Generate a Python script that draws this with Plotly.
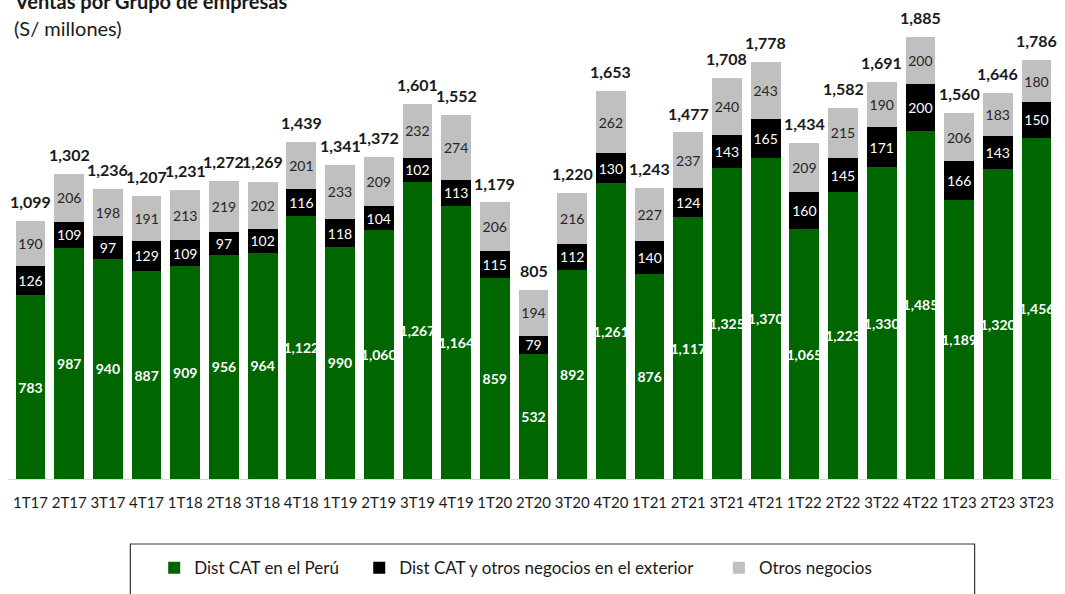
import plotly.graph_objects as go

categories = ["1T17", "2T17", "3T17", "4T17", "1T18", "2T18", "3T18", "4T18",
              "1T19", "2T19", "3T19", "4T19", "1T20", "2T20", "3T20", "4T20",
              "1T21", "2T21", "3T21", "4T21", "1T22", "2T22", "3T22", "4T22",
              "1T23", "2T23", "3T23"]
dist_peru = [783, 987, 940, 887, 909, 956, 964, 1122, 990, 1060, 1267, 1164, 859, 532,
             892, 1261, 876, 1117, 1325, 1370, 1065, 1223, 1330, 1485, 1189, 1320, 1456]
dist_ext = [126, 109, 97, 129, 109, 97, 102, 116, 118, 104, 102, 113, 115, 79,
            112, 130, 140, 124, 143, 165, 160, 145, 171, 200, 166, 143, 150]
otros = [190, 206, 198, 191, 213, 219, 202, 201, 233, 209, 232, 274, 206, 194,
         216, 262, 227, 237, 240, 243, 209, 215, 190, 200, 206, 183, 180]
totals = [1099, 1302, 1236, 1207, 1231, 1272, 1269, 1439, 1341, 1372, 1601, 1552, 1179, 805,
          1220, 1653, 1243, 1477, 1708, 1778, 1434, 1582, 1691, 1885, 1560, 1646, 1786]

FONT = "Lato"
TXT = "#1a1a1a"

def fmt(v):
    return f"{v:,}"

fig = go.Figure()
fig.add_trace(go.Bar(
    x=categories, y=dist_peru, name="Dist CAT en el Perú", legend="legend",
    marker=dict(color="#006600", line=dict(width=0)),
    text=[fmt(v) for v in dist_peru], textposition="inside", insidetextanchor="middle",
    textangle=0,
    textfont=dict(family=FONT, size=14, color="white", weight="bold"),
))
fig.add_trace(go.Bar(
    x=categories, y=dist_ext, name="Dist CAT y otros negocios en el exterior", legend="legend2",
    marker=dict(color="#000000", line=dict(width=0)),
    text=[fmt(v) for v in dist_ext], textposition="inside", insidetextanchor="middle",
    textangle=0,
    textfont=dict(family=FONT, size=14, color="white"),
))
fig.add_trace(go.Bar(
    x=categories, y=otros, name="Otros negocios", legend="legend3",
    marker=dict(color="#c0c0c0", line=dict(width=0)),
    text=[fmt(v) for v in otros], textposition="inside", insidetextanchor="middle",
    textangle=0,
    textfont=dict(family=FONT, size=14, color="#262626"),
))

annotations = []
for c, t in zip(categories, totals):
    annotations.append(dict(
        x=c, y=t, xref="x", yref="y", text=fmt(t), showarrow=False,
        yanchor="bottom", yshift=8,
        font=dict(family=FONT, size=16, color=TXT, weight="bold"),
    ))

annotations.append(dict(
    x=0.0042, y=1.019, xref="paper", yref="paper", xanchor="left", yanchor="middle",
    text="<b>Ventas por Grupo de empresas</b>", showarrow=False,
    font=dict(family=FONT, size=20, color=TXT),
))
annotations.append(dict(
    x=0.0042, y=0.962, xref="paper", yref="paper", xanchor="left", yanchor="middle",
    text="(S/ millones)", showarrow=False,
    font=dict(family=FONT, size=20, color=TXT),
))

def leg(xpos):
    return dict(
        orientation="h", x=xpos, xanchor="left", y=-0.152, yanchor="top",
        font=dict(family=FONT, size=17, color=TXT),
        bgcolor="rgba(0,0,0,0)", itemclick=False, itemdoubleclick=False,
    )

fig.update_layout(
    barmode="stack",
    bargap=0.23,
    width=1065, height=594,
    margin=dict(l=7.5, r=5.5, t=10, b=115),
    paper_bgcolor="white", plot_bgcolor="white",
    font=dict(family=FONT, color=TXT),
    uniformtext=dict(minsize=14, mode="show"),
    showlegend=True,
    legend=leg(0.1391),
    legend2=leg(0.3342),
    legend3=leg(0.6764),
    annotations=annotations,
    shapes=[dict(type="rect", xref="paper", yref="paper",
                 x0=0.1164, x1=0.9197, y0=-0.1386, y1=-0.27,
                 line=dict(color="#333333", width=1.2), fillcolor="rgba(0,0,0,0)")],
    xaxis=dict(showline=True, linecolor="#d9d9d9", linewidth=1, ticks="",
               tickfont=dict(family=FONT, size=15, color=TXT),
               ticklabelstandoff=10, showgrid=False),
    yaxis=dict(range=[0, 2000], visible=False, showgrid=False),
)

fig.write_html("out.html", config={"displayModeBar": False},
               post_script="document.body.style.margin='0';")
